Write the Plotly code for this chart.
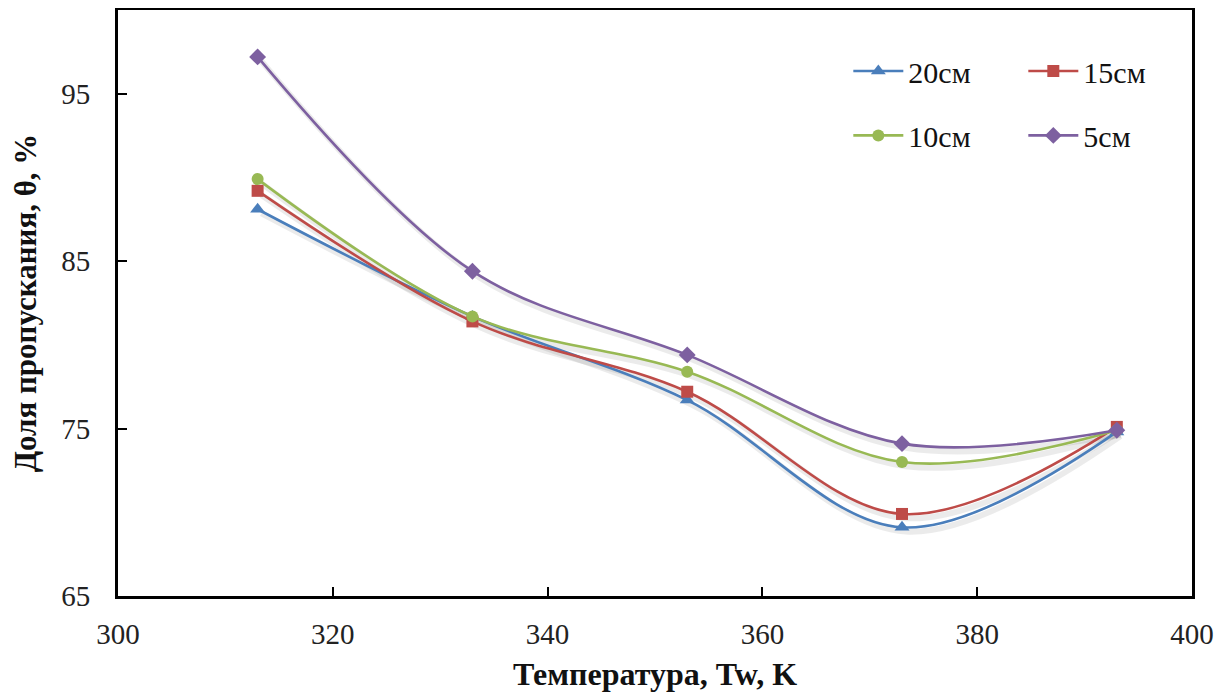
import plotly.graph_objects as go

temps = [313, 333, 353, 373, 393]
names = ["20см", "15см", "10см", "5см"]
s20 = [88.1, 81.7, 76.7, 69.1, 74.8]
s15 = [89.2, 81.4, 77.2, 69.9, 75.1]
s10 = [89.9, 81.7, 78.4, 73.0, 74.9]
s5 = [97.2, 84.4, 79.4, 74.1, 74.9]
series = [s20, s15, s10, s5]
colors = ["#4a7ebb", "#be4b48", "#98b954", "#7d60a0"]
symbols = ["triangle-up", "square", "circle", "diamond"]
msizes = [13, 12, 12, 13]
legends = ["legend", "legend", "legend2", "legend2"]

FONT = "Liberation Serif"

fig = go.Figure()

# soft shadow under each line
for vals in series:
    fig.add_trace(go.Scatter(
        x=[t + 0.35 for t in temps], y=[v - 0.25 for v in vals],
        mode="lines", line=dict(shape="spline", smoothing=1.0, width=6, color="rgba(0,0,0,0.08)"),
        hoverinfo="skip", showlegend=False))

for name, vals, c, sym, ms, lg in zip(names, series, colors, symbols, msizes, legends):
    fig.add_trace(go.Scatter(
        x=temps, y=vals, name=name, mode="lines+markers",
        line=dict(shape="spline", smoothing=1.0, width=2.6, color=c),
        marker=dict(symbol=sym, size=ms, color=c),
        legend=lg))

axis_common = dict(
    showline=True, linecolor="black", linewidth=3, mirror=True,
    ticks="inside", ticklen=9, tickwidth=2, tickcolor="black",
    showgrid=False, zeroline=False, automargin=False,
    tickfont=dict(family=FONT, size=29, color="#222"),
)

fig.update_xaxes(range=[300, 400], tickvals=[300, 320, 340, 360, 380, 400],
                 ticklabelstandoff=10,
                 title=dict(text="<b>Температура, Tw, K</b>", font=dict(family=FONT, size=32, color="#111"), standoff=14),
                 **axis_common)
fig.update_yaxes(range=[65, 100], tickvals=[65, 75, 85, 95],
                 ticklabelstandoff=19,
                 title=dict(text="<b>Доля пропускания, θ, %</b>", font=dict(family=FONT, size=31, color="#111"), standoff=22),
                 **axis_common)

leg_common = dict(orientation="h", xanchor="left", yanchor="middle",
                  font=dict(family=FONT, size=30, color="#111"),
                  bgcolor="rgba(0,0,0,0)", entrywidth=110, itemwidth=50)

# page body has an 8px default margin, so the figure is 8px smaller
fig.update_layout(
    width=1224, height=688,
    margin=dict(l=110, r=40, t=2, b=100),
    plot_bgcolor="white", paper_bgcolor="white",
    legend=dict(x=0.68, y=0.896, **leg_common),
    legend2=dict(x=0.68, y=0.786, **leg_common),
)

fig.write_html("out.html")
